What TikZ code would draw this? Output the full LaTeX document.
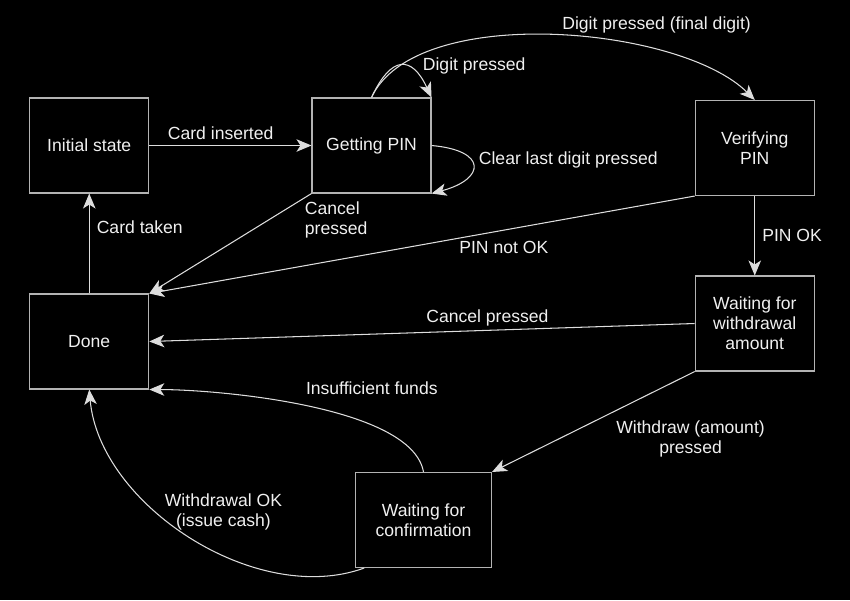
\documentclass[tikz,border=0pt]{standalone}
\usepackage{fontspec}
\setmainfont{Liberation Sans}
\usepackage{tikz}
\usetikzlibrary{arrows.meta,positioning}
\definecolor{bg}{HTML}{000000}
\definecolor{edge}{HTML}{B3B3B3}
\definecolor{wire}{HTML}{DDDDDD}
\definecolor{ink}{HTML}{F0F0F0}

\begin{document}
\begin{tikzpicture}[
  font=\fontsize{10}{11.5}\selectfont,
  st/.style={rectangle,draw=edge,fill=bg,text=ink,line width=0.6pt,
             minimum width=2.38cm,minimum height=1.9cm,align=center},
  arr/.style={-{Stealth[length=3mm,width=2.5mm,inset=0.8mm]},draw=wire,line width=0.6pt},
  lbl/.style={text=ink,inner sep=2pt,align=center}
]
\fill[bg] (0,0) rectangle (17,-12);
\useasboundingbox (0,0) rectangle (17,-12);

\node[st] (init)   at (1.785,-2.91) {Initial state};
\node[st] (getpin) at (7.43,-2.91)  {Getting PIN};
\node[st] (verify) at (15.095,-2.96) {Verifying\\PIN};
\node[st] (done)   at (1.785,-6.83) {Done};
\node[st] (waitamt) at (15.095,-6.47) {Waiting for\\withdrawal\\amount};
\node[st,minimum width=2.72cm] (waitconf) at (8.47,-10.40) {Waiting for\\confirmation};

\draw[arr] (init) -- node[lbl,pos=0.44,above=1pt]{Card inserted} (getpin);
\draw[arr] (done) -- node[lbl,pos=0.66,right=2pt]{Card taken} (init);
\draw[arr] (getpin.north) to[out=65,in=115,looseness=2]
  node[lbl,pos=0.7,anchor=west,xshift=3pt,yshift=3pt]{Digit pressed} (getpin.north east);
\draw[arr] (getpin.north) to[out=65,in=135,looseness=0.7]
  node[lbl,pos=0.72,above=8pt]{Digit pressed (final digit)} (verify.north);
\draw[arr] (getpin.east) to[out=-5,in=15,looseness=3]
  node[lbl,pos=0.4,anchor=west,xshift=2pt]{Clear last digit pressed} (getpin.south east);
\draw[arr] (getpin.south west) --
  node[lbl,pos=0,anchor=north west,align=left,xshift=-6pt,yshift=-2.5pt]{Cancel\\pressed} (done.north east);
\draw[arr] (verify.south west) -- node[lbl,pos=0.35,below=4pt]{PIN not OK} (done.north east);
\draw[arr] (verify) -- node[lbl,right=2pt]{PIN OK} (waitamt);
\draw[arr] (waitamt.west) -- node[lbl,pos=0.38,above]{Cancel pressed} (done.east);
\draw[arr] (waitamt.south west) --
  node[lbl,pos=0.45,anchor=north west,xshift=5pt]{Withdraw (amount)\\pressed} (waitconf.north east);
\draw[arr] (waitconf.north) to[out=100,in=0,looseness=0.6]
  node[lbl,pos=0.3,above=15pt]{Insufficient funds} (done.south east);
\draw[arr] (waitconf.219) to[out=200,in=-85,looseness=0.9]
  node[lbl,pos=0.4,above=12pt]{Withdrawal OK\\(issue cash)} (done.south);
\end{tikzpicture}
\end{document}
